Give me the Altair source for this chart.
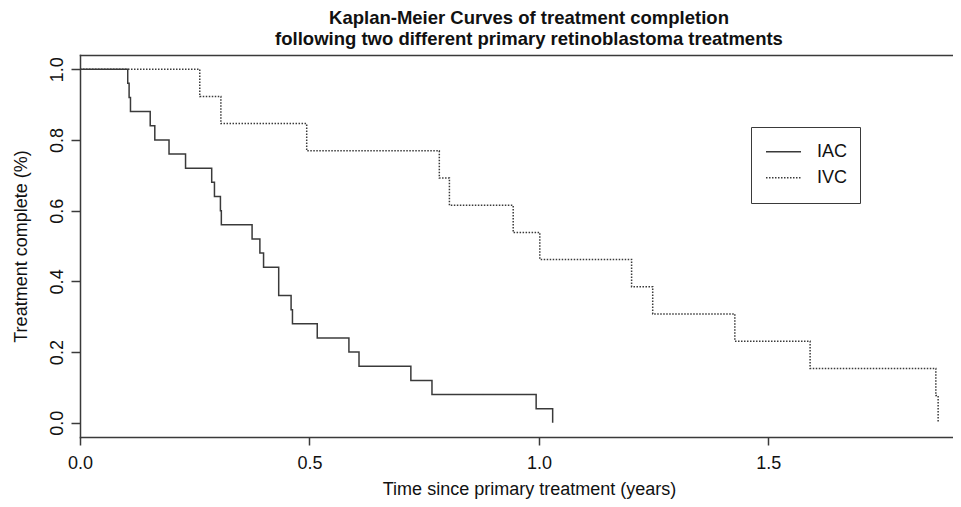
import altair as alt
import pandas as pd

# ---- data ----
groups = ["IAC", "IVC"]

iac_time = [0.104, 0.107, 0.110, 0.153, 0.163, 0.194, 0.230, 0.287, 0.293, 0.306,
            0.308, 0.375, 0.392, 0.400, 0.433, 0.433, 0.460, 0.463, 0.517, 0.586,
            0.608, 0.721, 0.767, 0.994, 1.030]
iac_surv = [0.96, 0.92, 0.88, 0.84, 0.80, 0.76, 0.72, 0.68, 0.64, 0.60,
            0.56, 0.52, 0.48, 0.44, 0.40, 0.36, 0.32, 0.28, 0.24, 0.20,
            0.16, 0.12, 0.08, 0.04, 0.00]

ivc_time = [0.261, 0.307, 0.494, 0.783, 0.805, 0.944, 1.002, 1.202, 1.248, 1.427,
            1.591, 1.865, 1.870]
ivc_surv = [0.923, 0.846, 0.769, 0.692, 0.615, 0.538, 0.462, 0.385, 0.308, 0.231,
            0.154, 0.077, 0.000]

x_ticks = [0.0, 0.5, 1.0, 1.5]
y_ticks = [0.0, 0.2, 0.4, 0.6, 0.8, 1.0]

title_lines = ["Kaplan-Meier Curves of treatment completion",
               "following two different primary retinoblastoma treatments"]
x_title = "Time since primary treatment (years)"
y_title = "Treatment complete (%)"

rows = []
for g, ts, ss in ((groups[0], iac_time, iac_surv), (groups[1], ivc_time, ivc_surv)):
    rows.append({"group": g, "time": 0.0, "surv": 1.0, "order": 0})
    for i, (t, s) in enumerate(zip(ts, ss)):
        rows.append({"group": g, "time": t, "surv": s, "order": i + 1})
df = pd.DataFrame(rows)

FONT = "Liberation Sans"
INK = "#3a3a3a"

x_scale = alt.Scale(domain=[0, 1.9024], nice=False, zero=False)
y_scale = alt.Scale(domain=[-0.04, 1.04], nice=False, zero=False)

base = alt.Chart(df)

curves = base.mark_line(interpolate="step-after", strokeWidth=1.5, color=INK, clip=True).encode(
    x=alt.X("time:Q", scale=x_scale,
            axis=alt.Axis(orient="bottom", values=x_ticks, format=".1f", grid=False,
                          tickSize=8, tickColor=INK, tickWidth=1.5,
                          domainColor=INK, domainWidth=1.5, domainCap="square",
                          labelFontSize=18, labelColor="#111", labelPadding=23,
                          labelBaseline="alphabetic", labelFont=FONT,
                          labelFlush=False, labelOverlap=False,
                          title=x_title, titleFontSize=18, titleFontWeight="normal",
                          titleColor="#111", titleFont=FONT,
                          titleX=449, titleY=57.5, titleAlign="center",
                          titleBaseline="alphabetic")),
    y=alt.Y("surv:Q", scale=y_scale,
            axis=alt.Axis(orient="left", values=y_ticks, format=".1f", grid=False,
                          tickSize=9, tickColor=INK, tickWidth=1.5,
                          domainColor=INK, domainWidth=1.5, domainCap="square",
                          labelFontSize=18, labelColor="#111", labelPadding=9,
                          labelAngle=270, labelAlign="center",
                          labelBaseline="alphabetic", labelFont=FONT,
                          labelFlush=False, labelOverlap=False,
                          title=y_title, titleFontSize=18, titleFontWeight="normal",
                          titleColor="#111", titleFont=FONT, titleAngle=270,
                          titleX=-53.5, titleY=191, titleAlign="center",
                          titleBaseline="alphabetic")),
    strokeDash=alt.StrokeDash("group:N",
                              scale=alt.Scale(domain=groups, range=[[1, 0], [1.5, 1.5]]),
                              legend=alt.Legend(title=None, orient="none",
                                                legendX=671, legendY=72,
                                                strokeColor=INK, padding=12,
                                                symbolType="stroke", symbolSize=1225,
                                                symbolStrokeWidth=1.5,
                                                symbolStrokeColor=INK,
                                                symbolOffset=2, labelOffset=15,
                                                clipHeight=25.6, rowPadding=0,
                                                labelFontSize=18, labelColor="#111",
                                                labelFont=FONT)),
    order="order:Q",
)

top_frame = base.mark_point(opacity=0).encode(
    x=alt.X("time:Q", scale=x_scale,
            axis=alt.Axis(orient="top", labels=False, ticks=False, title=None, grid=False,
                          domainColor=INK, domainWidth=1.5, domainCap="square")),
)

chart = alt.layer(curves, top_frame).resolve_axis(x="independent").properties(
    width=873,
    height=382,
    autosize=alt.AutoSizeParams(type="none"),
    padding={"left": 72, "top": 47, "right": 0, "bottom": 62},
    title=alt.TitleParams(text=title_lines, fontSize=18.5, fontWeight="bold", font=FONT,
                          color="#111", anchor="middle", frame="group", dx=12.5,
                          lineHeight=21.6, offset=6),
).configure_view(stroke=None).configure(font=FONT, background="white")

chart.save("out.html", embed_options={"renderer": "svg", "actions": False})
